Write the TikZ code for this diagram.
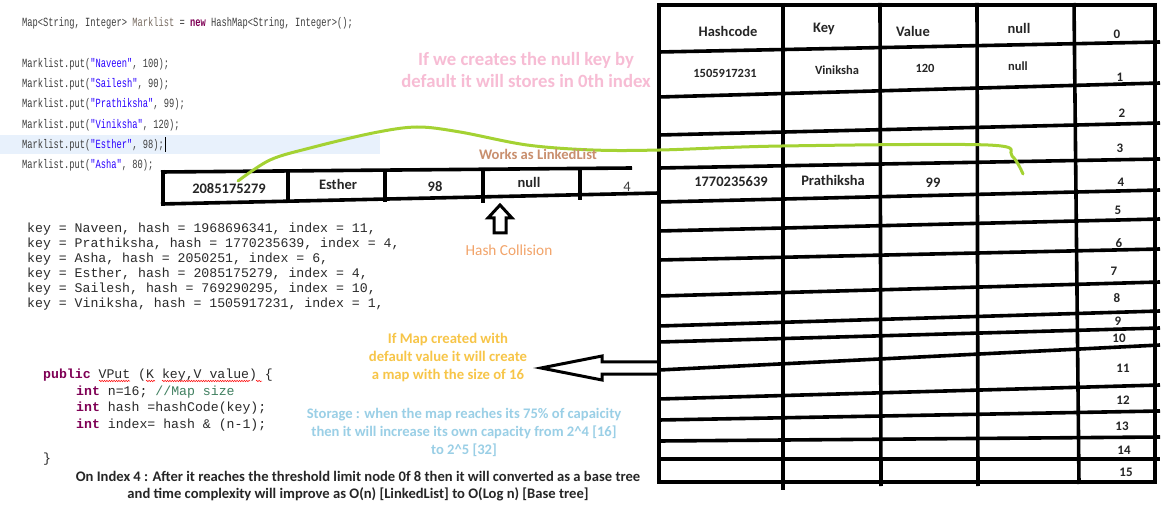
\documentclass[tikz,border=0pt]{standalone}
\usepackage{fontspec}
\setmainfont{Carlito}
\newfontfamily\eclipsefont[FakeStretch=0.7]{Liberation Mono}
\newfontfamily\courfont{Liberation Mono}
\usetikzlibrary{decorations.pathmorphing}
\definecolor{pinkt}{HTML}{F7BCD4}
\definecolor{yellowt}{HTML}{F7C548}
\definecolor{bluet}{HTML}{9ACFE6}
\definecolor{brownt}{HTML}{C98F6E}
\definecolor{oranget}{HTML}{F2A46A}
\definecolor{greenl}{HTML}{A4D233}
\definecolor{txtdark}{HTML}{262626}
\definecolor{hilite}{HTML}{E8F1FC}
\definecolor{ecgray}{HTML}{3E3E3E}
\definecolor{ecvar}{HTML}{7A6E64}
\definecolor{kwpurple}{HTML}{7F0055}
\definecolor{strblue}{HTML}{2A00FF}
\definecolor{cmtgreen}{HTML}{3F7F5F}
\definecolor{courtxt}{HTML}{2A2A2A}
\newcommand{\kw}[1]{\textcolor{kwpurple}{\bfseries #1}}
\newcommand{\str}[1]{\textcolor{strblue}{#1}}
\begin{document}
\begin{tikzpicture}[x=1pt,y=-1pt,
  grid/.style={line width=3.6pt},
  tb/.style={font=\fontsize{14.5}{16}\selectfont\bfseries, text=txtdark, inner sep=0pt},
  tbs/.style={font=\fontsize{12.5}{14}\selectfont\bfseries, text=txtdark, inner sep=0pt},
  idx/.style={font=\fontsize{13}{15}\selectfont\bfseries, text=txtdark, inner sep=0pt},
  ecl/.style={anchor=base west, inner sep=0pt, font=\eclipsefont\fontsize{12.5}{14}\selectfont, text=ecgray},
  crs/.style={anchor=base west, inner sep=0pt, font=\courfont\fontsize{13.2}{15}\selectfont, text=courtxt},
  note/.style={align=center, inner sep=0pt, font=\bfseries},
  squig/.style={draw=red, line width=0.5pt, decorate, decoration={snake, amplitude=0.7pt, segment length=2.4pt}},
  greenpath/.style={draw=greenl, line width=3pt, line cap=round, line join=round},
  blockarrow/.style={draw=black, line width=3pt, line join=miter}
]
\useasboundingbox (0,0) rectangle (1165,521);
\fill[white] (0,0) rectangle (1165,521);

% ---------- Eclipse code ----------
\fill[hilite] (0,135) rectangle (380,154);
\node[ecl] (c0) at (22,27) {Map<String, Integer> \textcolor{ecvar}{Marklist} = \kw{new} HashMap<String, Integer>();};
\node[ecl] (c1) at (22,68) {Marklist.put(\str{"Naveen"}, 100);};
\node[ecl] (c2) at (22,88) {Marklist.put(\str{"Sailesh"}, 90);};
\node[ecl] (c3) at (22,108) {Marklist.put(\str{"Prathiksha"}, 99);};
\node[ecl] (c4) at (22,129) {Marklist.put(\str{"Viniksha"}, 120);};
\node[ecl] (c5) at (22,149) {Marklist.put(\str{"Esther"}, 98);};
\node[ecl] (c6) at (22,169) {Marklist.put(\str{"Asha"}, 80);};
\draw[line width=0.8pt] (165.5,137) -- (165.5,152);

% ---------- key/hash list ----------
\node[crs] (k1) at (27,232.6) {key = Naveen, hash = 1968696341, index = 11,};
\node[crs] (k2) at (27,247.6) {key = Prathiksha, hash = 1770235639, index = 4,};
\node[crs] (k3) at (27,262.6) {key = Asha, hash = 2050251, index = 6,};
\node[crs] (k4) at (27,277.6) {key = Esther, hash = 2085175279, index = 4,};
\node[crs] (k5) at (27,292.6) {key = Sailesh, hash = 769290295, index = 10,};
\node[crs] (k6) at (27,307.6) {key = Viniksha, hash = 1505917231, index = 1,};

% ---------- put method ----------
\node[crs] (p1) at (43,378.6) {\kw{public} VPut (K key,V value) \{};
\node[crs] (p2) at (76,395.6) {\kw{int} n=16; \textcolor{cmtgreen}{//Map size}};
\node[crs] (p3) at (76,411.6) {\kw{int} hash =hashCode(key);};
\node[crs] (p4) at (76,428.6) {\kw{int} index= hash \& (n-1);};
\node[crs] (p5) at (43,462.6) {\}};
\draw[squig] (99,381) -- (130,381);
\draw[squig] (146,381) -- (155,381);
\draw[squig] (162,381) -- (250,381);
\draw[squig] (256,381) -- (262,381);

% ---------- hash table ----------
\draw[grid] (657,5) -- (1157,5);
\foreach \l/\r in {52/42, 97/83, 135/123, 168/159, 202/190, 231/219, 260/249, 296/282,
                   326/311, 342/328, 370/345, 399/385, 420/411, 441/437, 459/459}
  \draw[grid] (659,\l) -- (1160,\r);
\draw[grid] (657,482) -- (1157,482);
\draw[grid] (659,3) -- (659,484);
\draw[grid] (783,3) -- (783,490);
\draw[grid] (880,3) -- (881,486);
\draw[grid] (977,3) -- (978,486);
\draw[grid] (1074,3) -- (1079,484);
\draw[grid] (1155,3) -- (1155,484);

\node[tb] (hHash) at (728,31) {Hashcode};
\node[tb] (hKey) at (824,29) {Key};
\node[tb] (hVal) at (913,31) {Value};
\node[tb] (hNull) at (1019,28) {null};
\node[tbs] (r1h) at (725,73) {1505917231};
\node[tbs] (r1k) at (837,70) {Viniksha};
\node[tbs] (r1v) at (925,68) {120};
\node[tbs] (r1n) at (1018,66) {null};
\node[tb] (r4h) at (731,182) {1770235639};
\node[tb] (r4k) at (833,180) {Prathiksha};
\node[tb] (r4v) at (933,183) {99};
\coordinate (r4n) at (1023,174);

\foreach \n/\x/\y in {0/1117/34, 1/1120/77, 2/1122/113, 3/1120/148, 4/1121/182, 5/1118/210,
                      6/1119/243, 7/1114/271, 8/1117/298, 9/1118/321, 10/1119/338, 11/1123/368,
                      12/1123/400, 13/1122/426, 14/1124/450, 15/1126/472}
  \node[idx] (i\n) at (\x,\y) {\n};

% ---------- linked list entry ----------
\draw[grid] (161,172) -- (632,168);
\draw[grid] (161,204) -- (659,193);
\draw[grid] (163,170) -- (163,206);
\draw[grid] (288,170) -- (288,203);
\draw[grid] (385,170) -- (385,202);
\draw[grid] (483,168) -- (483,203);
\draw[grid] (580,168) -- (580,200);
\node[tb] (lh) at (229,189) {2085175279};
\node[tb] (lk) at (338,184) {Esther};
\node[tb] (lv) at (435,187) {98};
\node[tb] (ln) at (529,182) {null};
\node[inner sep=0pt, font=\fontsize{14.5}{16}\selectfont, text=ecgray] (li) at (627,187) {4};
\coordinate (lstart) at (238,181);

% green link
\draw[greenpath] plot[smooth, tension=0.55] coordinates {(lstart) (270,160) (310,148) (373,133) (417,127) (460,132) (527,145) (593,150) (660,150) (782,146) (988,145) (1012,156) (r4n)};

% hollow up arrow
\draw[blockarrow] (500,205) -- (512,218) -- (506,218) -- (506,233) -- (494,233) -- (494,218) -- (488,218) -- cycle;

% hollow left arrow
\draw[blockarrow] (657,362) -- (602,362) -- (602,356) -- (541,368) -- (602,380) -- (602,374) -- (657,374);

% ---------- notes ----------
\node[note, text=pinkt, font=\fontsize{18.7}{22}\selectfont\bfseries] (pink) at (526,70)
  {If we creates the null key by\\default it will stores in 0th index};
\node[note, text=brownt, font=\fontsize{14.6}{16}\selectfont\bfseries] (works) at (538,154) {Works as LinkedList};
\node[note, text=oranget, font=\fontsize{15.3}{17}\selectfont] (coll) at (509,250) {Hash Collision};
\node[note, text=yellowt, font=\fontsize{14.7}{18}\selectfont\bfseries] (yel) at (448,357)
  {If Map created with\\default value it will create\\a map with the size of 16};
\node[note, text=bluet, font=\fontsize{14.6}{18}\selectfont\bfseries] (blu) at (464,432)
  {Storage : when the map reaches its 75\% of capaicity\\then it will increase its own capacity from 2\textasciicircum 4 [16]\\to 2\textasciicircum 5 [32]};
\node[note, text=txtdark, font=\fontsize{14.6}{17}\selectfont\bfseries] (bot) at (358,486)
  {On Index 4 : After it reaches the threshold limit node 0f 8 then it will converted as a base tree\\and time complexity will improve as O(n) [LinkedList] to O(Log n) [Base tree]};
\end{tikzpicture}
\end{document}
